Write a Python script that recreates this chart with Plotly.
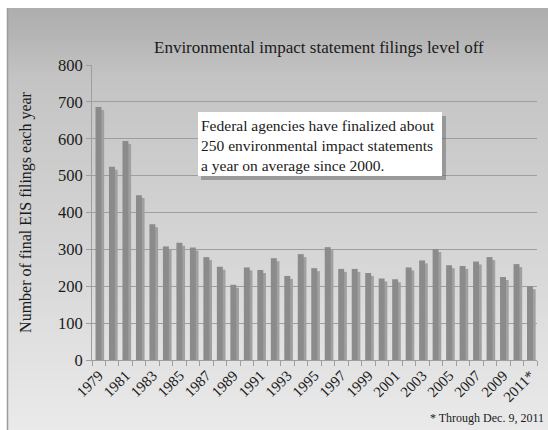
import base64
import struct
import zlib

import plotly.graph_objects as go

# Final EIS filings per year
years = list(range(1979, 2012))
filings = [686, 524, 594, 447, 368, 308, 318, 305, 279, 253, 204, 251, 244, 276, 228,
           287, 249, 306, 247, 247, 236, 221, 219, 251, 270, 301, 257, 255, 267, 279,
           225, 260, 200]
label_years = list(range(1979, 2012, 2))
label_text = [str(y) for y in label_years[:-1]] + ["2011*"]
callout_lines = [
    "Federal agencies have finalized about",
    "250 environmental impact statements",
    "a year on average since 2000.",
]

W, H = 548, 430
L, R, T, B = 92, 11, 65, 70
PW, PH = W - L - R, H - T - B


def px_x(px):
    return (px - L) / PW


def px_y(py):
    return (H - B - py) / PH


def gradient_png(stops, height, width=4):
    """Vertical grayscale gradient encoded as a PNG data URI."""
    rows = []
    for r in range(height):
        for (y0, c0), (y1, c1) in zip(stops[:-1], stops[1:]):
            if y0 <= r <= y1:
                t = (r - y0) / (y1 - y0) if y1 > y0 else 0
                v = round(c0 + (c1 - c0) * t)
                break
        else:
            v = stops[-1][1]
        rows.append(b"\x00" + bytes([v]) * width)
    raw = b"".join(rows)

    def chunk(tag, data):
        c = struct.pack(">I", len(data)) + tag + data
        return c + struct.pack(">I", zlib.crc32(tag + data) & 0xFFFFFFFF)

    png = b"\x89PNG\r\n\x1a\n"
    png += chunk(b"IHDR", struct.pack(">IIBBBBB", width, height, 8, 0, 0, 0, 0))
    png += chunk(b"IDAT", zlib.compress(raw))
    png += chunk(b"IEND", b"")
    return "data:image/png;base64," + base64.b64encode(png).decode()


bg = gradient_png([(0, 174), (25, 180), (70, 196), (150, 204), (250, 214),
                   (330, 224), (422, 234)], 422)

serif = "Liberation Serif, Times New Roman, serif"

fig = go.Figure()

# soft shadow behind each bar
fig.add_trace(go.Bar(
    x=years, y=[v - 8 for v in filings], width=0.28, offset=0.12,
    marker=dict(color="#a0a0a0", line=dict(width=0)), hoverinfo="skip",
))
fig.add_trace(go.Bar(
    x=years, y=filings, width=0.44, offset=-0.24,
    marker=dict(color="#8b8b8b", line=dict(width=0)),
))

annotations = [
    dict(text="Environmental impact statement filings level off",
         xref="paper", yref="paper", x=px_x(319), y=px_y(47),
         xanchor="center", yanchor="middle", showarrow=False,
         font=dict(size=17)),
    dict(text="* Through Dec. 9, 2011",
         xref="paper", yref="paper", x=px_x(546), y=px_y(418),
         xanchor="right", yanchor="middle", showarrow=False,
         font=dict(size=12)),
    dict(text="<br>".join(callout_lines),
         xref="paper", yref="paper", x=px_x(200), y=px_y(145),
         xanchor="left", yanchor="middle", align="left", showarrow=False,
         font=dict(size=15.5), borderpad=0),
]

fig.update_layout(
    width=W, height=H,
    margin=dict(l=L, r=R, t=T, b=B, pad=0),
    paper_bgcolor="white",
    plot_bgcolor="rgba(0,0,0,0)",
    barmode="overlay",
    showlegend=False,
    font=dict(family=serif, color="#1a1a1a", size=15),
    images=[dict(
        source=bg, xref="paper", yref="paper",
        x=px_x(7), y=px_y(8), sizex=px_x(W) - px_x(7), sizey=px_y(8) - px_y(H),
        sizing="stretch", layer="below", xanchor="left", yanchor="top",
    )],
    shapes=[
        dict(type="line", xref="paper", yref="paper", x0=px_x(7.5), x1=px_x(7.5),
             y0=px_y(8), y1=px_y(H), line=dict(color="#9c9c9c", width=1.5)),
        # callout box shadow and box
        dict(type="rect", xref="paper", yref="paper", x0=px_x(201), x1=px_x(446),
             y0=px_y(116), y1=px_y(180), fillcolor="rgba(90,90,90,0.45)",
             line=dict(width=0), layer="above"),
        dict(type="rect", xref="paper", yref="paper", x0=px_x(198), x1=px_x(442),
             y0=px_y(112), y1=px_y(176), fillcolor="white",
             line=dict(width=0), layer="above"),
    ],
    annotations=annotations,
)

fig.update_yaxes(
    range=[0, 800], dtick=100, showgrid=True, gridcolor="#9e9e9e", gridwidth=1,
    showline=True, linecolor="#9e9e9e", linewidth=1,
    ticks="outside", ticklen=5, tickcolor="#9e9e9e",
    tickfont=dict(size=16.5),
    title=dict(text="Number of final EIS filings each year", font=dict(size=16),
               standoff=22),
    zeroline=False,
)
fig.update_xaxes(
    range=[1978.5, 2011.5], tickvals=label_years, ticktext=label_text,
    tickangle=-45, ticks="", showgrid=False,
    showline=True, linecolor="#9e9e9e", linewidth=1,
    tickfont=dict(size=15),
    minor=dict(tick0=1978.5, dtick=1, ticks="outside", ticklen=5,
               tickcolor="#9e9e9e", showgrid=False),
    zeroline=False,
)

fig.write_html("out.html")
